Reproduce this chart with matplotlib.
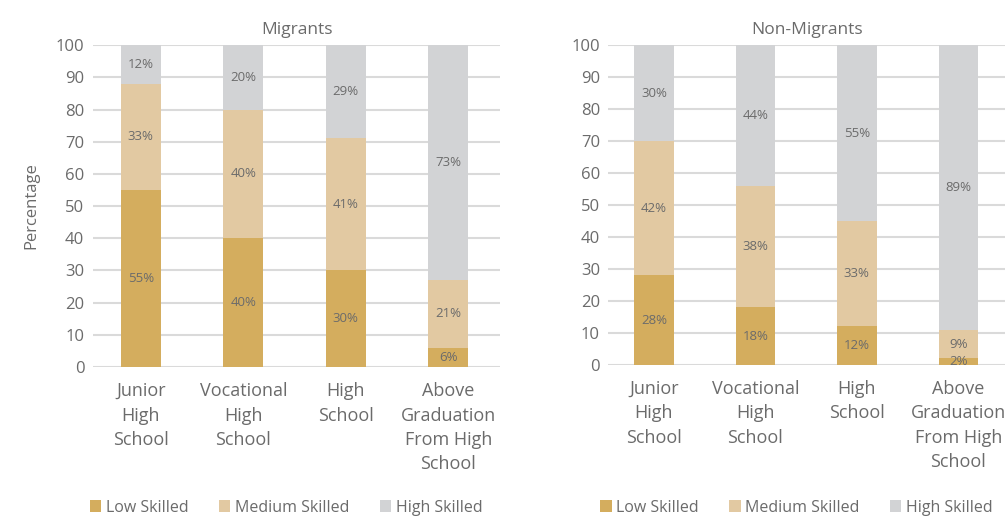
import matplotlib
matplotlib.use("Agg")
import matplotlib.pyplot as plt
import numpy as np

categories = ["Junior\nHigh\nSchool", "Vocational\nHigh\nSchool", "High\nSchool",
              "Above\nGraduation\nFrom High\nSchool"]
series = ["Low Skilled", "Medium Skilled", "High Skilled"]
migrants_low = [55, 40, 30, 6]
migrants_med = [33, 40, 41, 21]
migrants_high = [12, 20, 29, 73]
nonmig_low = [28, 18, 12, 2]
nonmig_med = [42, 38, 33, 9]
nonmig_high = [30, 44, 55, 89]
yticks = [0, 10, 20, 30, 40, 50, 60, 70, 80, 90, 100]

colors = ["#D4AD5E", "#E2C9A2", "#D2D3D5"]
text_color = "#6B6B6B"
grid_color = "#DADADA"

plt.rcParams['font.family'] = ['Open Sans', 'DejaVu Sans']

fig = plt.figure(figsize=(10.07, 5.19), dpi=100)
ax1 = fig.add_axes([0.092, 0.293, 0.405, 0.620])
ax2 = fig.add_axes([0.604, 0.297, 0.394, 0.616])

def draw(ax, low, med, high, title, xlim):
    x = np.arange(len(categories))
    w = 0.39
    bottoms = np.zeros(len(categories))
    handles = []
    for vals, c, name in zip([low, med, high], colors, series):
        vals = np.array(vals, dtype=float)
        b = ax.bar(x, vals, w, bottom=bottoms, color=c, label=name, zorder=2)
        handles.append(b)
        for xi, v, bt in zip(x, vals, bottoms):
            ax.text(xi, bt + v / 2, f"{int(v)}%", ha="center", va="center",
                    fontsize=9.5, color=text_color, zorder=3)
        bottoms = bottoms + vals
    ax.set_ylim(0, 100)
    ax.set_xlim(*xlim)
    ax.set_yticks(yticks)
    ax.set_xticks(x)
    ax.set_xticklabels(categories, fontsize=13, color=text_color, linespacing=1.45, va="top")
    ax.tick_params(axis="y", labelsize=12, labelcolor=text_color, length=0, pad=6)
    ax.tick_params(axis="x", length=0, pad=11)
    for s in ax.spines.values():
        s.set_visible(False)
    ax.grid(axis="y", color=grid_color, linewidth=1.5, zorder=0)
    ax.set_axisbelow(True)
    ax.set_title(title, fontsize=12.5, color=text_color, pad=8)
    return handles

h = draw(ax1, migrants_low, migrants_med, migrants_high, "Migrants", (-0.47, 3.51))
draw(ax2, nonmig_low, nonmig_med, nonmig_high, "Non-Migrants", (-0.45, 3.46))
ax1.set_ylabel("Percentage", fontsize=12, color=text_color, labelpad=12)

for ax, xpos in [(ax1, 0.075), (ax2, 0.582)]:
    leg = fig.legend(h, series, loc="center left", bbox_to_anchor=(xpos, 0.022),
                     ncol=3, frameon=False, fontsize=11.5, handlelength=0.7,
                     handleheight=0.7, handletextpad=0.3, columnspacing=1.9,
                     labelcolor=text_color)

fig.savefig("out.png", dpi=100)
